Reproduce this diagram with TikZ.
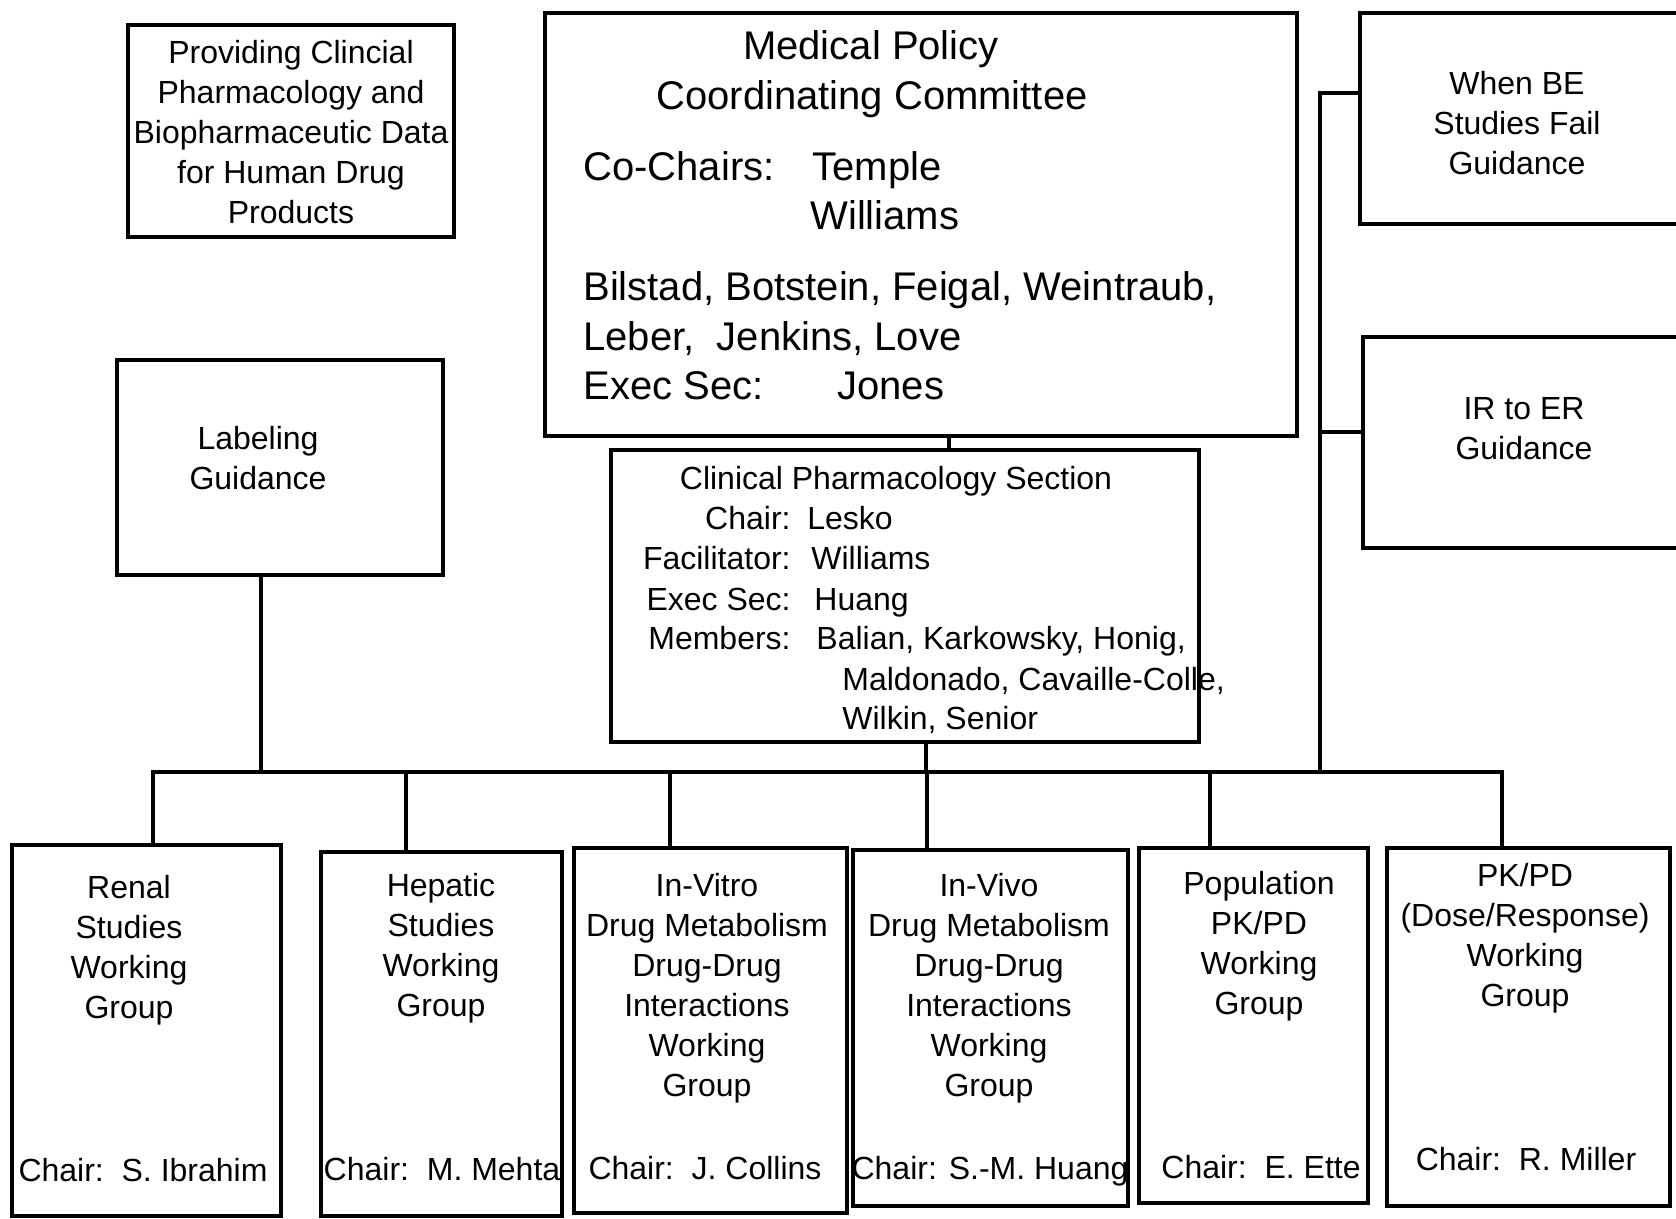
\documentclass[tikz,border=0pt]{standalone}
\usepackage{fontspec}
\setmainfont{Liberation Sans}
\usetikzlibrary{fit}
\begin{document}
\begin{tikzpicture}[x=0.5pt,y=-0.5pt,
  box/.style={draw, line width=2pt, inner sep=0pt},
  wire/.style={line width=2pt, line join=miter},
  txt/.style={inner sep=0pt, align=center, font=\fontsize{16}{20}\selectfont},
  sm/.style={inner sep=0pt, font=\fontsize{16}{20}\selectfont, text height=11.5pt, text depth=0pt},
  big/.style={inner sep=0pt, font=\fontsize{20}{25}\selectfont, text height=14.4pt, text depth=0pt}]
\useasboundingbox (0,0) rectangle (1676,1219);
\clip (0,0) rectangle (1676,1219);

% ---- boxes ----
\node[box, fit={(128,25) (454,237)}]   (prov) {};
\node[box, fit={(545,13) (1297,436)}]  (mpcc) {};
\node[box, fit={(1360,13) (1700,224)}] (whenbe) {};
\node[box, fit={(1363,337) (1700,548)}] (irer) {};
\node[box, fit={(117,360) (443,575)}]  (lab) {};
\node[box, fit={(611,450) (1199,742)}] (cps) {};
\node[box, fit={(12,845) (281,1216)}]  (renal) {};
\node[box, fit={(321,852) (562,1216)}] (hep) {};
\node[box, fit={(574,848) (847,1213)}] (vitro) {};
\node[box, fit={(853,850) (1128,1206)}] (vivo) {};
\node[box, fit={(1139,848) (1368,1203)}] (pop) {};
\node[box, fit={(1387,848) (1670,1206)}] (pkpd) {};

% ---- texts ----
\node[txt] (provT) at (291,132) {Providing Clincial\\Pharmacology and\\Biopharmaceutic Data\\for Human Drug\\Products};

\node[big] (mpT1) at (871,45) {Medical Policy};
\node[big] (mpT2) at (872,95) {Coordinating Committee};
\node[big, anchor=west] (mpCo) at (583,166) {Co-Chairs:};
\node[big, anchor=west] (mpTe) at (812,166) {Temple};
\node[big, anchor=west] (mpWi) at (810,215) {Williams};
\node[big, anchor=west] (mpM1) at (583,286) {Bilstad, Botstein, Feigal, Weintraub,};
\node[big, anchor=west] (mpM2) at (583,336) {Leber,\ \ Jenkins, Love};
\node[big, anchor=west] (mpEx) at (583,385) {Exec Sec:};
\node[big, anchor=west] (mpJo) at (837,385) {Jones};

\node[txt] (wbT) at (1517,123) {When BE\\Studies Fail\\Guidance};
\node[txt] (irT) at (1524,429) {IR to ER\\Guidance};
\node[txt] (labT) at (258,458) {Labeling\\Guidance};

\node[sm] (cpsT) at (896,478) {Clinical Pharmacology Section};
\node[sm, anchor=east] (cpsL1) at (791,518) {Chair:};
\node[sm, anchor=east] (cpsL2) at (791,558) {Facilitator:};
\node[sm, anchor=east] (cpsL3) at (791,599) {Exec Sec:};
\node[sm, anchor=east] (cpsL4) at (791,638) {Members:};
\node[sm, anchor=west] (cpsV1) at (807,518) {Lesko};
\node[sm, anchor=west] (cpsV2) at (811,558) {Williams};
\node[sm, anchor=west] (cpsV3) at (814,599) {Huang};
\node[sm, anchor=west] (cpsV4) at (816,638) {Balian, Karkowsky, Honig,};
\node[sm, anchor=west] (cpsV5) at (842,679) {Maldonado, Cavaille-Colle,};
\node[sm, anchor=west] (cpsV6) at (842,718) {Wilkin, Senior};

\node[txt] (renT) at (129,950) {Renal\\Studies\\Working\\Group};
\node[sm]  (renC) at (143,1170) {Chair:\ \ S. Ibrahim};
\node[txt] (hepT) at (441,948) {Hepatic\\Studies\\Working\\Group};
\node[sm]  (hepC) at (442,1169) {Chair:\ \ M. Mehta};
\node[txt] (vitT) at (707,988) {In-Vitro\\Drug Metabolism\\Drug-Drug\\Interactions\\Working\\Group};
\node[sm]  (vitC) at (705,1168) {Chair:\ \ J. Collins};
\node[txt] (vivT) at (989,988) {In-Vivo\\Drug Metabolism\\Drug-Drug\\Interactions\\Working\\Group};
\node[sm]  (vivC) at (990,1168) {Chair: S.-M. Huang};
\node[txt] (popT) at (1259,946) {Population\\PK/PD\\Working\\Group};
\node[sm]  (popC) at (1261,1167) {Chair:\ \ E. Ette};
\node[txt] (pkT) at (1525,938) {PK/PD\\(Dose/Response)\\Working\\Group};
\node[sm]  (pkC) at (1526,1159) {Chair:\ \ R. Miller};

% ---- connectors ----
\coordinate (busL) at (153,772);
\coordinate (busR) at (1502,772);
\coordinate (dHep) at (406,772);
\coordinate (dVit) at (670,772);
\coordinate (dViv) at (927,772);
\coordinate (dPop) at (1210,772);
\coordinate (cpsOut) at (926,772);
\coordinate (mpOut) at (949,440);
\coordinate (labOut) at (261,772);
\coordinate (rvB) at (1320,772);
\coordinate (rvT) at (1320,93);
\coordinate (rvM) at (1320,432);

\draw[wire] (renal.north -| busL) -- (busL) -- (busR) -- (busR |- pkpd.north);
\draw[wire] (dHep) -- (dHep |- hep.north);
\draw[wire] (dVit) -- (dVit |- vitro.north);
\draw[wire] (dViv) -- (dViv |- vivo.north);
\draw[wire] (dPop) -- (dPop |- pop.north);
\draw[wire] (cpsOut |- cps.south) -- (cpsOut);
\draw[wire] (mpOut |- mpcc.south) -- (mpOut |- cps.north);
\draw[wire] (labOut |- lab.south) -- (labOut);
\draw[wire] (rvB) -- (rvT) -- (rvT -| whenbe.west);
\draw[wire] (rvM) -- (rvM -| irer.west);
\end{tikzpicture}
\end{document}
